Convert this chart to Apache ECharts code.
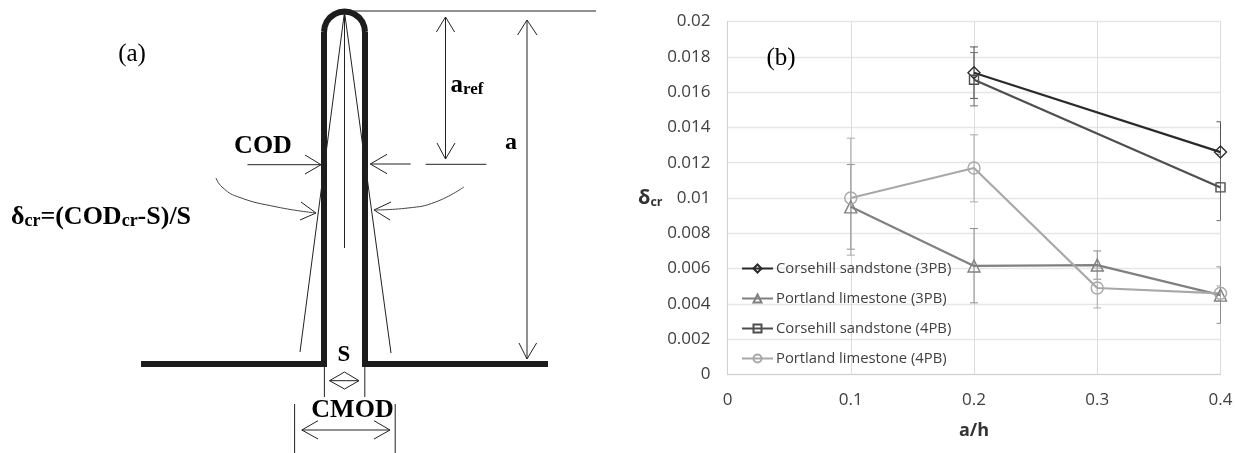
<!DOCTYPE html>
<html><head><meta charset="utf-8">
<style>html,body{margin:0;padding:0;background:#fff}#c{width:1235px;height:453px}</style>
<script src="https://cdn.jsdelivr.net/npm/echarts@6/dist/echarts.min.js"></script>
</head><body><div id="c"></div>
<script>
// ---- panel (b) data ----
const seriesNames = ['Corsehill sandstone (3PB)','Portland limestone (3PB)','Corsehill sandstone (4PB)','Portland limestone (4PB)'];
const corsehill3X = [0.2,0.4];
const corsehill3Y = [0.0171,0.0126];
const corsehill3Low = [0.01564,0.01088];
const corsehill3High = [0.01856,0.01432];
const portland3X = [0.1,0.2,0.3,0.4];
const portland3Y = [0.0095,0.00615,0.0062,0.0045];
const portland3Low = [0.0071,0.00406,0.0054,0.0029];
const portland3High = [0.0119,0.00827,0.0070,0.0061];
const corsehill4X = [0.2,0.4];
const corsehill4Y = [0.0167,0.0106];
const corsehill4Low = [0.01522,0.00872];
const corsehill4High = [0.01824,0.01248];
const portland4X = [0.1,0.2,0.3,0.4];
const portland4Y = [0.0100,0.0117,0.0049,0.0046];
const portland4Low = [0.00676,0.00978,0.00377,0.0042];
const portland4High = [0.01339,0.01358,0.00603,0.00502];

// ---- panel (a) schematic, in diagram units ----
const thick = [
  [[141,364],[324,364],[324,32]],
  [[548,364],[365,364],[365,32]]
];
const capArc = [[324,32],[324.7,26.7],[326.7,21.75],[330,17.5],[334.25,14.25],[339.2,12.2],[344.5,11.5],[349.8,12.2],[354.75,14.25],[359,17.5],[362.3,21.75],[364.3,26.7],[365,32]];
const thin = [
  [[345,11],[596,11]],
  [[344.5,12],[300,352]],[[344.5,12],[391,353]],[[344.5,12],[344.5,248]],
  [[445.5,17],[445.5,159]],[[436.4,32],[445.5,17],[454.6,32]],[[437,143],[445.5,159],[455,143]],
  [[527,20],[527,359]],[[517.6,35],[527,20],[537,35]],[[519,343],[527,359],[536.6,343]],
  [[247.5,164.7],[321,164.7]],[[305,155],[321,164.7],[305,174]],
  [[410.7,164],[370.3,164]],[[387,154.3],[370.3,164],[387,173.7]],
  [[425.7,164.3],[486.3,164.3]],
  [[301,202],[316,213],[300,220]],
  [[391,202],[374,210],[390,220]],
  [[329.5,380.7],[359,380.7]],[[329.5,380.7],[344.5,372],[359,380.7],[344.5,389],[329.5,380.7]],
  [[324.4,364],[324.4,397]],[[364.8,364],[364.8,397]],
  [[294.6,404],[294.6,453]],[[395.2,404],[395.2,453]],
  [[301.8,430],[390,430]],[[318,420.7],[301.8,430],[318,439]],[[374,420.7],[390,430],[374,439]]
];
const curves = [
  [[216,178],[222,187],[237.6,196.7],[277,207],[316,213]],
  [[464,187],[435.6,202],[408,208],[374,210]]
];
const labelItems = [
  {p:[132,54],t:'(a)',s:25,w:'normal'},
  {p:[781,58],t:'(b)',s:25,w:'normal'},
  {p:[263,146],t:'COD',s:26,w:'bold'},
  {p:[467,86],t:'{b|a}{sub|ref}',s:25,w:'bold'},
  {p:[511,143],t:'a',s:24,w:'bold'},
  {p:[101,217],t:'{b|δ}{sub|cr}{b|=(COD}{sub|cr}{b|-S)/S}',s:26,w:'bold'},
  {p:[344,355],t:'S',s:23,w:'bold'},
  {p:[352.5,410],t:'CMOD',s:26,w:'bold'}
];

const serif = '"Liberation Serif","DejaVu Serif",serif';
const sans = '"Open Sans","Noto Sans",sans-serif';
const colors = ['#2a2a2a','#808080','#4e4e4e','#a8a8a8'];
const errColors = ['#555555','#8c8c8c','#707070','#ababab'];
const symbols = ['diamond','triangle','rect','circle'];
const symSizes = [12,12,9,12];
const zip = (a,b)=>a.map((v,i)=>[v,b[i]]);
const xs=[corsehill3X,portland3X,corsehill4X,portland4X];
const ys=[corsehill3Y,portland3Y,corsehill4Y,portland4Y];
const lows=[corsehill3Low,portland3Low,corsehill4Low,portland4Low];
const highs=[corsehill3High,portland3High,corsehill4High,portland4High];

const series=[];
const schem=(name,data,width,color,smooth)=>({name,type:'line',xAxisIndex:1,yAxisIndex:1,data,showSymbol:false,symbol:'none',
  smooth:!!smooth,clip:false,silent:true,lineStyle:{width,color,cap:'butt',join:'miter'},z:3,animation:false});
thick.forEach((d,i)=>series.push(schem('wall'+i,d,6,'#1c1c1c')));
series.push(schem('cap',capArc,6,'#1c1c1c'));
thin.forEach((d,i)=>series.push(schem('thin'+i,d,1,'#222222')));
curves.forEach((d,i)=>series.push(schem('curve'+i,d,1,'#444444',true)));
series.push({name:'text',type:'scatter',xAxisIndex:1,yAxisIndex:1,symbolSize:1,itemStyle:{color:'transparent',opacity:1},silent:true,clip:false,z:5,
  data:labelItems.map(l=>({value:l.p,label:{show:true,position:'inside',formatter:l.t,color:'#000',textBorderWidth:0,textBorderColor:'transparent',fontFamily:serif,fontSize:l.s,fontWeight:l.w,opacity:1,
    rich:{b:{fontFamily:serif,fontSize:l.s,fontWeight:'bold',color:'#000',textBorderWidth:0},
          sub:{fontFamily:serif,fontSize:Math.round(l.s*0.68),fontWeight:'bold',color:'#000',textBorderWidth:0,verticalAlign:'bottom',padding:[8,0,0,0]}}}}))});

seriesNames.forEach((n,i)=>{
  series.push({name:'err'+i,type:'custom',xAxisIndex:0,yAxisIndex:0,silent:true,z:2,clip:false,
    data:xs[i].map((x,j)=>[x,lows[i][j],highs[i][j]]),
    renderItem:(params,api)=>{
      const lo=api.coord([api.value(0),api.value(1)]),hi=api.coord([api.value(0),api.value(2)]);
      const right=params.coordSys.x+params.coordSys.width;
      const style={stroke:errColors[i],lineWidth:1,fill:null};
      const xr=Math.min(lo[0]+4,right);
      return {type:'group',children:[
        {type:'line',shape:{x1:lo[0],y1:lo[1],x2:hi[0],y2:hi[1]},style},
        {type:'line',shape:{x1:lo[0]-4,y1:lo[1],x2:xr,y2:lo[1]},style},
        {type:'line',shape:{x1:hi[0]-4,y1:hi[1],x2:xr,y2:hi[1]},style}]};
    }});
  series.push({name:n,type:'line',xAxisIndex:0,yAxisIndex:0,data:zip(xs[i],ys[i]),symbol:symbols[i],symbolSize:symSizes[i],
    showAllSymbol:true,clip:false,z:4,silent:true,
    lineStyle:{color:colors[i],width:2.2},
    itemStyle:{color:'transparent',borderColor:colors[i],borderWidth:1.4}});
});

const chart=echarts.init(document.getElementById('c'),null,{renderer:'canvas'});
chart.setOption({
  animation:false,backgroundColor:'#fff',
  grid:[{left:727.5,top:21.5,width:493,height:353,containLabel:false,outerBoundsMode:'none'},{left:0,top:0,width:620,height:453,outerBoundsMode:'none'}],
  xAxis:[
    {type:'value',min:0,max:0.4,interval:0.1,name:'a/h',nameLocation:'middle',nameGap:47,nameMoveOverlap:false,
     nameTextStyle:{fontFamily:sans,fontSize:18,fontWeight:'bold',color:'#333'},
     axisLine:{show:true,lineStyle:{color:'#d0d0d0',width:1}},axisTick:{show:false},
     axisLabel:{show:true,margin:17,fontFamily:sans,fontSize:17,color:'#404040'},
     splitLine:{show:true,lineStyle:{color:'#dcdcdc',width:1}}},
    {type:'value',min:0,max:620,show:false,gridIndex:1}],
  yAxis:[
    {type:'value',min:0,max:0.02,interval:0.002,name:'{d|δ}{s|cr}',nameLocation:'middle',nameGap:65,nameRotate:0,nameMoveOverlap:false,
     nameTextStyle:{rich:{d:{fontFamily:sans,fontSize:20,fontWeight:'bold',color:'#333'},
                          s:{fontFamily:sans,fontSize:12.5,fontWeight:'bold',color:'#333',verticalAlign:'bottom',padding:[9,0,0,0]}}},
     axisLine:{show:true,lineStyle:{color:'#d0d0d0',width:1}},axisTick:{show:false},
     axisLabel:{show:true,margin:17,fontFamily:sans,fontSize:17,color:'#404040'},
     splitLine:{show:true,lineStyle:{color:'#e6e6e6',width:1.4}}},
    {type:'value',min:0,max:453,inverse:true,show:false,gridIndex:1}],
  legend:{show:true,data:seriesNames,orient:'vertical',left:736,top:256,itemWidth:31,itemHeight:10,itemGap:15,padding:5,
    textStyle:{fontFamily:sans,fontSize:14.8,color:'#404040',padding:[0,0,0,-2]},selectedMode:false,backgroundColor:'rgba(255,255,255,0)'},
  series
});
</script></body></html>
